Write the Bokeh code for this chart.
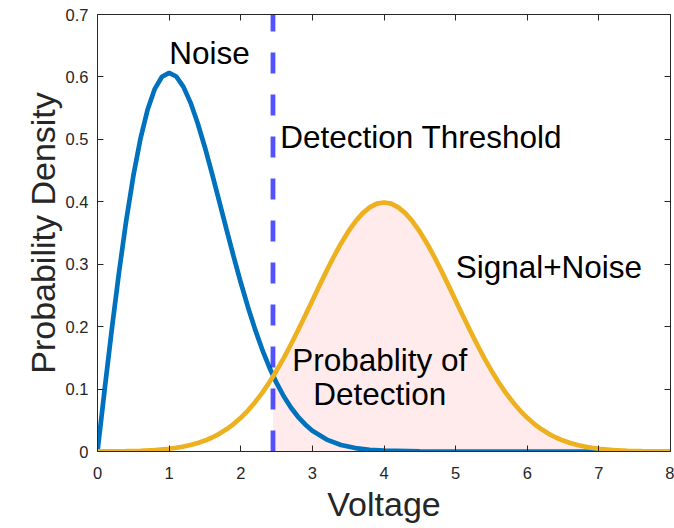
from bokeh.plotting import figure
from bokeh.models import Range1d, LinearAxis, FixedTicker, Label
from bokeh.embed import file_html
from bokeh.resources import INLINE

# ---- data ----
noise_x = [0.0, 0.1, 0.2, 0.3, 0.4, 0.5, 0.6, 0.7, 0.8, 0.9,
           1.0, 1.1, 1.2, 1.3, 1.4, 1.5, 1.6, 1.7, 1.8, 1.9,
           2.0, 2.1, 2.2, 2.3, 2.4, 2.5, 2.6, 2.7, 2.8, 2.9,
           3.0, 3.2, 3.4, 3.6, 3.8, 4.0, 4.5, 5.0, 6.0, 7.0, 8.0]
noise_y = [0.0, 0.0995, 0.1960, 0.2868, 0.3692, 0.4412, 0.5012, 0.5479, 0.5809, 0.6003,
           0.6065, 0.6007, 0.5841, 0.5585, 0.5254, 0.4870, 0.4448, 0.4007, 0.3562, 0.3125,
           0.2707, 0.2316, 0.1956, 0.1633, 0.1347, 0.1098, 0.0885, 0.0705, 0.0556, 0.0433,
           0.0333, 0.0191, 0.0105, 0.0055, 0.0028, 0.0013, 0.0002, 0.0, 0.0, 0.0, 0.0]

signal_x = [0.0, 0.2, 0.4, 0.6, 0.8,
            1.0, 1.1, 1.2, 1.3, 1.4, 1.5, 1.6, 1.7, 1.8, 1.9,
            2.0, 2.1, 2.2, 2.3, 2.4, 2.5, 2.6, 2.7, 2.8, 2.9,
            3.0, 3.1, 3.2, 3.3, 3.4, 3.5, 3.6, 3.7, 3.8, 3.9,
            4.0, 4.1, 4.2, 4.3, 4.4, 4.5, 4.6, 4.7, 4.8, 4.9,
            5.0, 5.1, 5.2, 5.3, 5.4, 5.5, 5.6, 5.7, 5.8, 5.9,
            6.0, 6.1, 6.2, 6.3, 6.4, 6.5, 6.6, 6.7, 6.8, 6.9,
            7.0, 7.2, 7.4, 7.6, 7.8, 8.0]
signal_y = [0.0001, 0.0003, 0.0006, 0.0012, 0.0024,
            0.0044, 0.0060, 0.0079, 0.0104, 0.0136, 0.0175, 0.0224, 0.0283, 0.0355, 0.0440,
            0.0540, 0.0656, 0.0790, 0.0940, 0.1109, 0.1295, 0.1497, 0.1714, 0.1942, 0.2179,
            0.2420, 0.2661, 0.2897, 0.3123, 0.3332, 0.3521, 0.3683, 0.3814, 0.3910, 0.3970,
            0.3989, 0.3970, 0.3910, 0.3814, 0.3683, 0.3521, 0.3332, 0.3123, 0.2897, 0.2661,
            0.2420, 0.2179, 0.1942, 0.1714, 0.1497, 0.1295, 0.1109, 0.0940, 0.0790, 0.0656,
            0.0540, 0.0440, 0.0355, 0.0283, 0.0224, 0.0175, 0.0136, 0.0104, 0.0079, 0.0060,
            0.0044, 0.0024, 0.0012, 0.0006, 0.0003, 0.0001]

threshold = 2.45
threshold_signal = 0.120

x_ticks = [0, 1, 2, 3, 4, 5, 6, 7, 8]
y_ticks = [0, 0.1, 0.2, 0.3, 0.4, 0.5, 0.6, 0.7]
x_limits = [0, 8]
y_limits = [0, 0.7]

shade_x = [threshold] + [x for x in signal_x if x > threshold]
shade_y = [threshold_signal] + [y for x, y in zip(signal_x, signal_y) if x > threshold]

FONT = "Liberation Sans"
AX_COL = "#262626"

p = figure(width=674, height=528,
           x_range=Range1d(*x_limits), y_range=Range1d(*y_limits),
           output_backend="svg", toolbar_location=None,
           min_border_left=97, min_border_right=4,
           min_border_top=14, min_border_bottom=77)
p.xgrid.visible = False
p.ygrid.visible = False
p.outline_line_color = None
p.background_fill_color = "white"
p.border_fill_color = "white"

# shaded probability of detection
p.varea(x=shade_x, y1=0, y2=shade_y, fill_color="#ff0000", fill_alpha=0.08)

p.line(noise_x, noise_y, line_color="#0072BD", line_width=4.7)
p.line(signal_x, signal_y, line_color="#EDB120", line_width=4.7)

p.segment(x0=[threshold], y0=[y_limits[0]], x1=[threshold], y1=[y_limits[1]],
          line_color="#0000ff", line_alpha=0.68, line_width=4.8,
          line_dash="21 21", line_cap="butt")

def style_axis(ax, ticks, labels=True):
    ax.ticker = FixedTicker(ticks=ticks)
    ax.axis_line_color = AX_COL
    ax.axis_line_width = 1
    ax.major_tick_line_color = AX_COL
    ax.major_tick_in = 6
    ax.major_tick_out = 0
    ax.minor_tick_line_color = None
    if labels:
        ax.major_label_text_font = FONT
        ax.major_label_text_font_size = "16.5px"
        ax.major_label_text_color = AX_COL
        ax.axis_label_text_font = FONT
        ax.axis_label_text_font_size = "34px"
        ax.axis_label_text_font_style = "normal"
        ax.axis_label_text_color = AX_COL
    else:
        ax.major_label_text_font_size = "0px"
        ax.major_label_standoff = 0

xb = p.xaxis[0]
style_axis(xb, x_ticks)
xb.axis_label = "Voltage"
xb.major_label_standoff = 15
xb.axis_label_standoff = 3

yl = p.yaxis[0]
style_axis(yl, y_ticks)
yl.axis_label = "Probability Density"
yl.major_label_standoff = 9
yl.axis_label_standoff = 1
yl.major_label_overrides = {0: "0"}

xt = LinearAxis()
style_axis(xt, x_ticks, labels=False)
p.add_layout(xt, "above")
yr = LinearAxis()
style_axis(yr, y_ticks, labels=False)
p.add_layout(yr, "right")

def add_text(x, y, txt, align="left"):
    p.add_layout(Label(x=x, y=y, text=txt, text_font=FONT, text_font_size="31.5px",
                       text_color="black", text_align=align,
                       text_baseline="alphabetic"))

add_text(1.564, 0.638, "Noise", "center")
add_text(2.55, 0.503, "Detection Threshold")
add_text(5.0, 0.296, "Signal+Noise")
add_text(3.94, 0.1466, "Probablity of", "center")
add_text(3.94, 0.0916, "Detection", "center")

open("out.html", "w").write(file_html(p, INLINE))
